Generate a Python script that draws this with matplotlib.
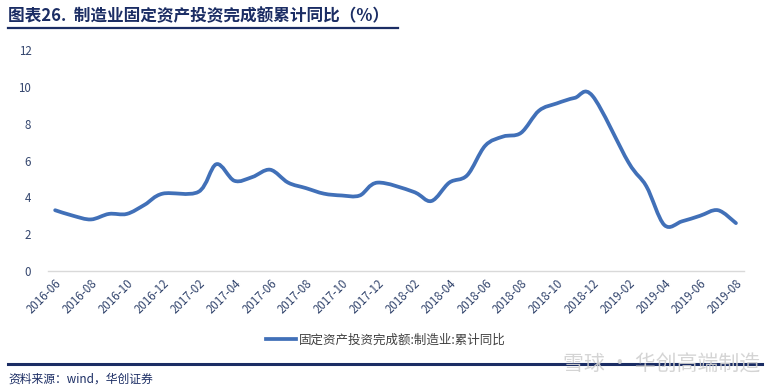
import numpy as np
import matplotlib.pyplot as plt
from matplotlib.path import Path
from matplotlib.patches import PathPatch
from matplotlib.lines import Line2D

plt.rcParams['font.family'] = ['Noto Sans CJK SC', 'DejaVu Sans']

# 月度数据（1月不单独公布）
months = ['2016-06', '2016-07', '2016-08', '2016-09', '2016-10', '2016-11', '2016-12',
          '2017-02', '2017-03', '2017-04', '2017-05', '2017-06', '2017-07', '2017-08',
          '2017-09', '2017-10', '2017-11', '2017-12',
          '2018-02', '2018-03', '2018-04', '2018-05', '2018-06', '2018-07', '2018-08',
          '2018-09', '2018-10', '2018-11', '2018-12',
          '2019-02', '2019-03', '2019-04', '2019-05', '2019-06', '2019-07', '2019-08']
values = [3.3, 3.0, 2.8, 3.1, 3.1, 3.6, 4.2,
          4.3, 5.8, 4.9, 5.1, 5.5, 4.8, 4.5,
          4.2, 4.1, 4.1, 4.8,
          4.3, 3.8, 4.8, 5.2, 6.8, 7.3, 7.5,
          8.7, 9.1, 9.4, 9.5,
          5.9, 4.6, 2.5, 2.7, 3.0, 3.3, 2.6]
tick_labels = ['2016-06', '2016-08', '2016-10', '2016-12', '2017-02', '2017-04', '2017-06',
               '2017-08', '2017-10', '2017-12', '2018-02', '2018-04', '2018-06', '2018-08',
               '2018-10', '2018-12', '2019-02', '2019-04', '2019-06', '2019-08']
series_name = '固定资产投资完成额:制造业:累计同比'

navy = '#1B2D64'
line_color = '#4170B8'


def month_pos(s):
    y, m = s.split('-')
    return (int(y) - 2016) * 12 + int(m) - 6


def smooth_path(x, y):
    # 类似Excel平滑线的贝塞尔曲线
    pts = np.column_stack([x, y])
    n = len(pts)
    verts = [pts[0]]
    codes = [Path.MOVETO]
    for i in range(n - 1):
        p0 = pts[max(i - 1, 0)]
        p1 = pts[i]
        p2 = pts[i + 1]
        p3 = pts[min(i + 2, n - 1)]
        c1 = p1 + (p2 - p0) / 6.0
        c2 = p2 - (p3 - p1) / 6.0
        verts += [c1, c2, p2]
        codes += [Path.CURVE4] * 3
    return Path(verts, codes)


def main():
    fig = plt.figure(figsize=(7.81, 3.91), dpi=100)
    ax = fig.add_axes([48 / 781, 1 - 271 / 391, (744 - 48) / 781, (271 - 50) / 391])

    x = np.array([month_pos(m) for m in months], dtype=float)
    y = np.array(values)
    patch = PathPatch(smooth_path(x, y), facecolor='none', edgecolor=line_color,
                      lw=2.7, capstyle='round', joinstyle='round')
    ax.add_patch(patch)

    ax.set_xlim(-0.4, 38.45)
    ax.set_ylim(0, 12)
    ax.set_yticks(range(0, 13, 2))
    ax.set_xticks([month_pos(t) for t in tick_labels])
    ax.set_xticklabels(tick_labels, rotation=45, ha='right', rotation_mode='anchor')
    ax.tick_params(axis='both', length=0, labelsize=8.3, labelcolor='#34466E')
    ax.tick_params(axis='y', pad=12)
    ax.tick_params(axis='x', pad=4)
    for s in ['top', 'right', 'left']:
        ax.spines[s].set_visible(False)
    ax.spines['bottom'].set_color('#D9D9D9')
    ax.spines['bottom'].set_linewidth(1)

    handle = Line2D([], [], color=line_color, lw=2.7)
    fig.legend([handle], [series_name], loc='center', bbox_to_anchor=(0.494, 1 - 340 / 391),
               frameon=False, fontsize=9, handlelength=2.4, handletextpad=0.2,
               labelcolor='#404040')

    fig.text(8 / 781, 1 - 16 / 391, '图表26.  制造业固定资产投资完成额累计同比（%）',
             fontsize=12, fontweight='bold', color=navy, va='center')
    fig.add_artist(Line2D([8 / 781, 398 / 781], [1 - 28 / 391] * 2, color=navy, lw=1.6))
    fig.add_artist(Line2D([8 / 781, 762 / 781], [1 - 364 / 391] * 2, color=navy, lw=2.2))
    fig.text(8 / 781, 1 - 379 / 391, '资料来源：wind，华创证券', fontsize=8.5,
             style='italic', color=navy, va='center')
    fig.text(760 / 781, 1 - 365 / 391, '雪球 · 华创高端制造', fontsize=15,
             color='#D0D0D0', alpha=0.9, ha='right', va='center', zorder=5)

    fig.savefig('out.png', dpi=100)
    plt.close(fig)


if __name__ == '__main__':
    main()
